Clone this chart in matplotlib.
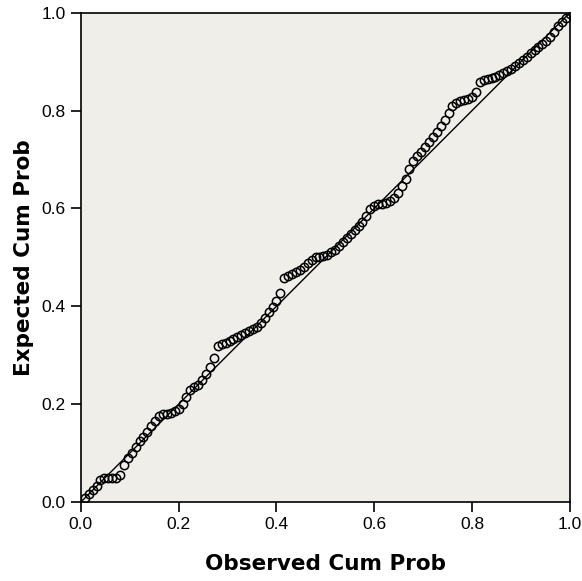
import matplotlib

matplotlib.use('Agg')

import matplotlib.pyplot as plt

# Normal P-P plot values
observed = [0.008, 0.016, 0.024, 0.032, 0.040, 0.048, 0.056, 0.064, 0.072, 0.080,
            0.088, 0.096, 0.104, 0.112, 0.120, 0.128, 0.136, 0.144, 0.152, 0.160,
            0.168, 0.176, 0.184, 0.192, 0.200, 0.208, 0.216, 0.224, 0.232, 0.240,
            0.248, 0.256, 0.264, 0.272, 0.280, 0.288, 0.296, 0.304, 0.312, 0.320,
            0.328, 0.336, 0.344, 0.352, 0.360, 0.368, 0.376, 0.384, 0.392, 0.400,
            0.408, 0.416, 0.424, 0.432, 0.440, 0.448, 0.456, 0.464, 0.472, 0.480,
            0.488, 0.496, 0.504, 0.512, 0.520, 0.528, 0.536, 0.544, 0.552, 0.560,
            0.568, 0.576, 0.584, 0.592, 0.600, 0.608, 0.616, 0.624, 0.632, 0.640,
            0.648, 0.656, 0.664, 0.672, 0.680, 0.688, 0.696, 0.704, 0.712, 0.720,
            0.728, 0.736, 0.744, 0.752, 0.760, 0.768, 0.776, 0.784, 0.792, 0.800,
            0.808, 0.816, 0.824, 0.832, 0.840, 0.848, 0.856, 0.864, 0.872, 0.880,
            0.888, 0.896, 0.904, 0.912, 0.920, 0.928, 0.936, 0.944, 0.952, 0.960,
            0.968, 0.976, 0.984, 0.992, 1.000]
expected = [0.008, 0.016, 0.024, 0.033, 0.045, 0.049, 0.050, 0.050, 0.050, 0.055,
            0.075, 0.090, 0.100, 0.112, 0.125, 0.132, 0.143, 0.155, 0.165, 0.175,
            0.180, 0.180, 0.182, 0.185, 0.190, 0.200, 0.215, 0.228, 0.235, 0.240,
            0.250, 0.262, 0.275, 0.295, 0.318, 0.322, 0.326, 0.330, 0.334, 0.338,
            0.342, 0.346, 0.350, 0.354, 0.358, 0.366, 0.376, 0.388, 0.398, 0.410,
            0.428, 0.458, 0.462, 0.466, 0.470, 0.474, 0.480, 0.488, 0.495, 0.500,
            0.500, 0.502, 0.505, 0.510, 0.516, 0.524, 0.532, 0.540, 0.548, 0.556,
            0.564, 0.572, 0.585, 0.598, 0.606, 0.610, 0.610, 0.612, 0.616, 0.622,
            0.632, 0.645, 0.660, 0.680, 0.698, 0.708, 0.716, 0.726, 0.736, 0.746,
            0.756, 0.768, 0.780, 0.795, 0.810, 0.816, 0.820, 0.822, 0.824, 0.828,
            0.838, 0.858, 0.862, 0.864, 0.866, 0.868, 0.872, 0.876, 0.880, 0.885,
            0.892, 0.898, 0.904, 0.910, 0.917, 0.924, 0.930, 0.936, 0.942, 0.950,
            0.960, 0.972, 0.982, 0.990, 0.998]

ticks = [0.0, 0.2, 0.4, 0.6, 0.8, 1.0]
tick_labels = ['0.0', '0.2', '0.4', '0.6', '0.8', '1.0']

plt.rcParams['font.family'] = ['Liberation Sans', 'DejaVu Sans']

fig = plt.figure(figsize=(5.82, 5.81), dpi=100)
ax = fig.add_axes([0.139, 0.136, 0.840, 0.842])
ax.set_facecolor('#efeee9')

# reference diagonal
ax.plot([0, 1], [0, 1], color='black', linewidth=1.0, zorder=2)
ax.plot(observed, expected, linestyle='none', marker='o', markersize=6,
        markerfacecolor='none', markeredgecolor='black', markeredgewidth=1.1, zorder=3)

ax.set_xlim(0, 1)
ax.set_ylim(0, 1)
ax.set_xticks(ticks)
ax.set_xticklabels(tick_labels)
ax.set_yticks(ticks)
ax.set_yticklabels(tick_labels)
ax.tick_params(direction='out', length=7, width=1.2, labelsize=12.5, colors='black', pad=4)
for side in ax.spines.values():
  side.set_linewidth(1.2)
  side.set_color('black')

ax.set_xlabel('Observed Cum Prob', fontsize=15.5, fontweight='bold', labelpad=16,
              family=['DejaVu Sans'])
ax.set_ylabel('Expected Cum Prob', fontsize=15.5, fontweight='bold', labelpad=5,
              family=['DejaVu Sans'])

fig.savefig('out.png', dpi=100, facecolor='white')
